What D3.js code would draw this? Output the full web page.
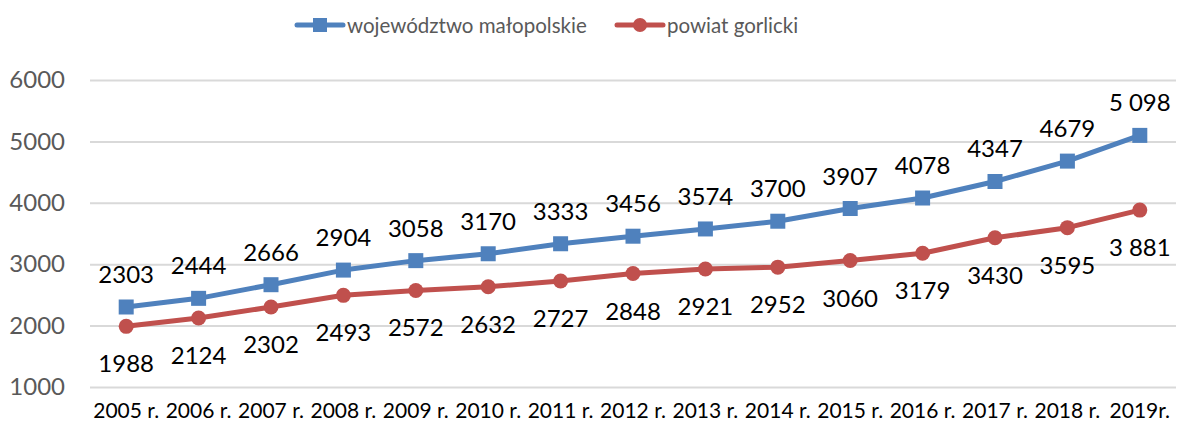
<!DOCTYPE html>
<html>
<head>
<meta charset="utf-8">
<script src="https://cdn.jsdelivr.net/npm/d3@7"></script>
<style>
  body { margin: 0; background: #fff; }
  svg { display: block; font-family: Lato, "Open Sans", sans-serif; }
</style>
</head>
<body>
<svg></svg>
<script>
let years = ["2005 r.", "2006 r.", "2007 r.", "2008 r.", "2009 r.", "2010 r.", "2011 r.", "2012 r.",
  "2013 r.", "2014 r.", "2015 r.", "2016 r.", "2017 r.", "2018 r.", "2019r."];
let malopolskie = [2303, 2444, 2666, 2904, 3058, 3170, 3333, 3456, 3574, 3700, 3907, 4078, 4347, 4679, 5098];
let gorlicki = [1988, 2124, 2302, 2493, 2572, 2632, 2727, 2848, 2921, 2952, 3060, 3179, 3430, 3595, 3881];
let malopolskieLabels = ["2303", "2444", "2666", "2904", "3058", "3170", "3333", "3456", "3574", "3700", "3907", "4078", "4347", "4679", "5 098"];
let gorlickiLabels = ["1988", "2124", "2302", "2493", "2572", "2632", "2727", "2848", "2921", "2952", "3060", "3179", "3430", "3595", "3 881"];
let yTicks = [1000, 2000, 3000, 4000, 5000, 6000];
let seriesNames = ["województwo małopolskie", "powiat gorlicki"];

let width = 1177;
let height = 427;
let blue = "#4f81bd";
let red = "#c0504d";

let svg = d3.select("svg").attr("width", width).attr("height", height);

// Scales
let xScale = d3.scaleBand().domain(years).range([90, 1176]);
let yScale = d3.scaleLinear().domain([1000, 6000]).range([387, 80]);
let cx = (d) => xScale(d) + xScale.bandwidth() / 2;

// gridlines + y labels
let yAxis = d3.axisLeft(yScale).tickValues(yTicks).tickSize(-(1176 - 90)).tickPadding(25).tickFormat(d3.format("d"));
let gy = svg.append("g").attr("transform", "translate(90,0)").call(yAxis);
gy.select(".domain").remove();
gy.selectAll(".tick line").attr("stroke", "#d9d9d9").attr("stroke-width", 2);
gy.selectAll(".tick text").attr("fill", "#595959").style("font-size", "24px").style("font-family", "Lato, sans-serif");

// x labels
let xAxis = d3.axisBottom(xScale).tickSize(0).tickPadding(0);
let gx = svg.append("g").attr("transform", "translate(0,403)").call(xAxis);
gx.select(".domain").remove();
gx.selectAll(".tick text").attr("fill", "#000").style("font-size", "21px").style("font-family", "Lato, sans-serif");

let line = d3.line().x((d, i) => cx(years[i])).y((d) => yScale(d));

let drawSeries = (values, color, shape) => {
  svg.append("path").datum(values).attr("d", line)
    .attr("fill", "none").attr("stroke", color).attr("stroke-width", 5).attr("stroke-linejoin", "round");
  if (shape == "square") {
    svg.selectAll(null).data(values).enter().append("rect")
      .attr("x", (d, i) => cx(years[i]) - 7.5).attr("y", (d) => yScale(d) - 7.5)
      .attr("width", 15).attr("height", 15).attr("fill", color);
  } else {
    svg.selectAll(null).data(values).enter().append("circle")
      .attr("cx", (d, i) => cx(years[i])).attr("cy", (d) => yScale(d))
      .attr("r", 7.5).attr("fill", color);
  }
};

drawSeries(malopolskie, blue, "square");
drawSeries(gorlicki, red, "circle");

// data labels
svg.selectAll(null).data(malopolskie).enter().append("text")
  .attr("x", (d, i) => cx(years[i])).attr("y", (d) => yScale(d) - 24)
  .attr("text-anchor", "middle").style("font-size", "24px").attr("fill", "#000")
  .text((d, i) => malopolskieLabels[i]);
svg.selectAll(null).data(gorlicki).enter().append("text")
  .attr("x", (d, i) => cx(years[i])).attr("y", (d) => yScale(d) + 46)
  .attr("text-anchor", "middle").style("font-size", "24px").attr("fill", "#000")
  .text((d, i) => gorlickiLabels[i]);

// legend
let legendItems = [
  { name: seriesNames[0], color: blue, shape: "square", x: 297 },
  { name: seriesNames[1], color: red, shape: "circle", x: 617 },
];
legendItems.forEach((item) => {
  let g = svg.append("g").attr("transform", "translate(" + item.x + ",25)");
  g.append("line").attr("x1", 0).attr("x2", 46).attr("stroke", item.color).attr("stroke-width", 5).attr("stroke-linecap", "round");
  if (item.shape == "square") {
    g.append("rect").attr("x", 16).attr("y", -7).attr("width", 14).attr("height", 14).attr("fill", item.color);
  } else {
    g.append("circle").attr("cx", 23).attr("r", 7).attr("fill", item.color);
  }
  g.append("text").attr("x", 50).attr("y", 8).style("font-size", "20.5px").attr("fill", "#595959").text(item.name);
});
</script>
</body>
</html>
